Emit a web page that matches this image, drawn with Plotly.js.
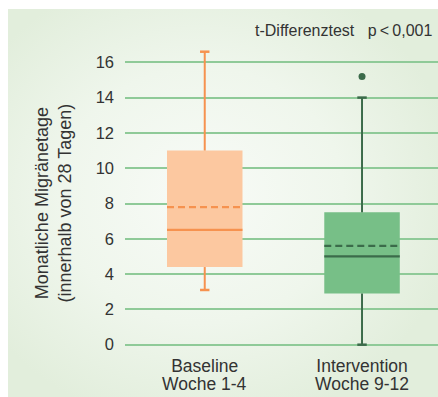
<!DOCTYPE html>
<html>
<head>
<meta charset="utf-8">
<script src="https://cdn.plot.ly/plotly-3.0.1.min.js"></script>
<style>
  html, body { margin: 0; padding: 0; background: #ffffff; }
  #panel { position: absolute; left: 8px; top: 9px; width: 430px; height: 388px;
    background: radial-gradient(ellipse 60% 60% at 45% 48%, #f8fbf7 0%, #eff6ec 55%, #e2eedc 100%); }
  #chart { position: absolute; left: 0; top: 0; width: 438px; height: 397px; }
</style>
</head>
<body>
<div id="panel"></div>
<div id="chart"></div>
<script>
// ---- data ----
const categories = ["Baseline", "Intervention"];
const periods = ["Woche 1-4", "Woche 9-12"];
const lowerWhisker = [3.1, 0];
const q1 = [4.4, 2.9];
const median = [6.5, 5.0];
const mean = [7.8, 5.6];
const q3 = [11.0, 7.5];
const upperWhisker = [16.6, 14];
const outliers = [[], [15.2]];
const yTicks = [0, 2, 4, 6, 8, 10, 12, 14, 16];
const yTitle = "Monatliche Migränetage<br>(innerhalb von 28 Tagen)";
const testLabel = "t-Differenztest\u00a0\u00a0\u00a0p\u2009<\u20090,001";

// ---- styles ----
const fillColors = ["#fcc8a0", "#77bf87"];
const lineColors = ["#f6924f", "#3b6b4a"];
const boxWidth = 0.48;
const capHalf = 0.03;
const font = "Liberation Sans, Arial, sans-serif";

const traces = [];
categories.forEach((c, i) => {
  traces.push({
    type: "box", x: [i], q1: [q1[i]], median: [median[i]], q3: [q3[i]],
    lowerfence: [q1[i]], upperfence: [q3[i]],
    width: boxWidth, fillcolor: fillColors[i],
    line: { color: fillColors[i], width: 0 }, whiskerwidth: 0,
    boxpoints: false, hoverinfo: "skip", showlegend: false
  });
});
categories.forEach((c, i) => {
  const lc = lineColors[i];
  // whiskers
  traces.push({
    type: "scatter", mode: "lines", showlegend: false, hoverinfo: "skip",
    x: [i, i, null, i, i], y: [q3[i], upperWhisker[i], null, q1[i], lowerWhisker[i]],
    line: { color: lc, width: 2 }
  });
  // caps
  traces.push({
    type: "scatter", mode: "lines", showlegend: false, hoverinfo: "skip",
    x: [i - capHalf, i + capHalf, null, i - capHalf, i + capHalf],
    y: [upperWhisker[i], upperWhisker[i], null, lowerWhisker[i], lowerWhisker[i]],
    line: { color: lc, width: 2.5 }
  });
  // median
  traces.push({
    type: "scatter", mode: "lines", showlegend: false, hoverinfo: "skip",
    x: [i - boxWidth / 2, i + boxWidth / 2], y: [median[i], median[i]],
    line: { color: lc, width: 2.2 }
  });
  // mean
  traces.push({
    type: "scatter", mode: "lines", showlegend: false, hoverinfo: "skip",
    x: [i - boxWidth / 2, i + boxWidth / 2], y: [mean[i], mean[i]],
    line: { color: lc, width: 2.2, dash: "7px,4px" }
  });
  if (outliers[i].length) {
    traces.push({
      type: "scatter", mode: "markers", showlegend: false, hoverinfo: "skip",
      x: outliers[i].map(() => i), y: outliers[i],
      marker: { color: lc, size: 7 }
    });
  }
});

const annotations = periods.map((p, i) => ({
  text: p, x: i, xref: "x", y: 0, yref: "paper", yanchor: "top", yshift: -22,
  showarrow: false, font: { family: font, size: 17.5, color: "#333333" }
}));
annotations.push({
  text: testLabel, x: 1, xref: "paper", xanchor: "right", xshift: -4,
  y: 1, yref: "paper", yanchor: "middle", yshift: 10,
  showarrow: false, font: { family: font, size: 16, color: "#333333" }
});
annotations.push({
  text: yTitle, textangle: -90, x: 0, xref: "paper", xanchor: "center", xshift: -72,
  y: (yTicks[0] + yTicks[yTicks.length - 1]) / 2, yref: "y", yanchor: "middle",
  showarrow: false, font: { family: font, size: 18, color: "#333333" }
});

const layout = {
  width: 438, height: 397,
  margin: { l: 125, r: 0, t: 40, b: 47 },
  paper_bgcolor: "rgba(0,0,0,0)", plot_bgcolor: "rgba(0,0,0,0)",
  showlegend: false,
  font: { family: font, color: "#333333" },
  xaxis: {
    range: [-0.507, 1.483], tickvals: [0, 1], ticktext: categories,
    showgrid: false, zeroline: false, showline: false, ticks: "",
    tickfont: { family: font, size: 17.5, color: "#333333" },
    ticklabelstandoff: 3, fixedrange: true
  },
  yaxis: {
    range: [-0.3, 17.263], tickvals: yTicks, ticktext: yTicks.map(String),
    showgrid: true, gridcolor: "#8fca98", gridwidth: 2,
    zeroline: false, showline: false, ticks: "",
    tickfont: { family: font, size: 16.5, color: "#333333" },
    ticklabelstandoff: 10,
    fixedrange: true
  },
  annotations: annotations
};

Plotly.newPlot("chart", traces, layout, { displayModeBar: false, staticPlot: true });
</script>
</body>
</html>
